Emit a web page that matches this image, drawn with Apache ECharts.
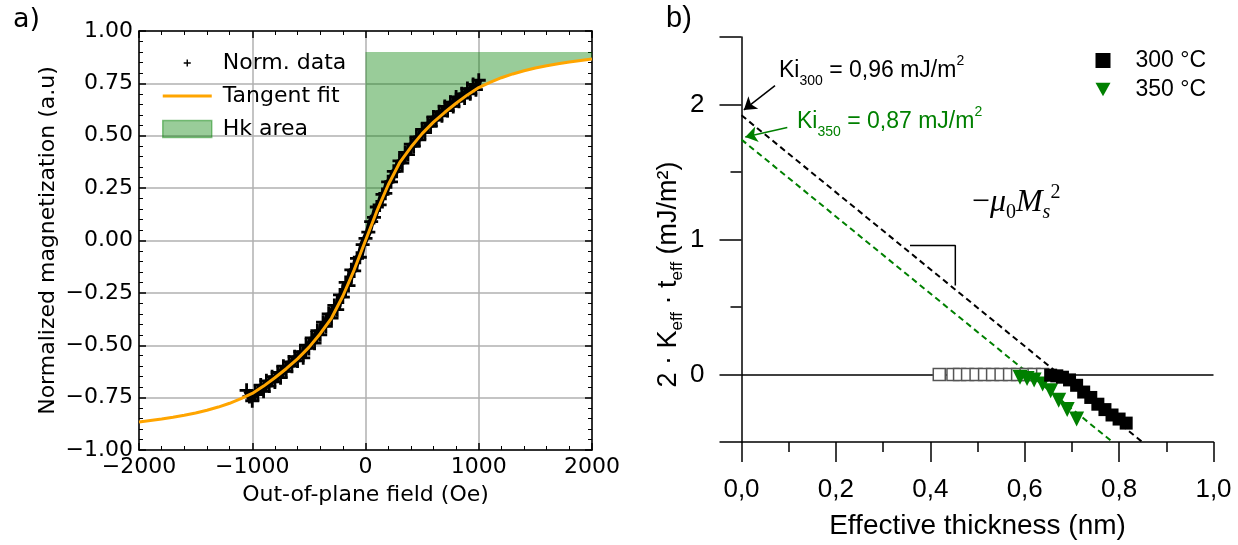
<!DOCTYPE html>
<html><head><meta charset="utf-8">
<script src="https://cdn.jsdelivr.net/npm/echarts@6/dist/echarts.min.js"></script>
<style>html,body{margin:0;padding:0;background:#fff}#c{width:1238px;height:545px}</style>
</head><body><div id="c"></div>
<script>
// ================= Panel a) data =================
const fieldTicks = [-2000, -1000, 0, 1000, 2000];
const magTicks = [-1, -0.75, -0.5, -0.25, 0, 0.25, 0.5, 0.75, 1];
// normalized measured data (Oe, a.u.)
const dataH = [-1050,-1025,-1000,-975,-950,-925,-900,-875,-850,-825,-800,-775,-750,-725,-700,-675,-650,-625,-600,-575,-550,-525,-500,-475,-450,-425,-400,-375,-350,-325,-300,-275,-250,-225,-200,-175,-150,-125,-100,-75,-50,-25,0,25,50,75,100,125,150,175,200,225,250,275,300,325,350,375,400,425,450,475,500,525,550,575,600,625,650,675,700,725,750,775,800,825,850,875,900,925,950,975,1000];
const dataM = [-0.715,-0.745,-0.765,-0.72,-0.735,-0.69,-0.72,-0.67,-0.695,-0.65,-0.675,-0.63,-0.655,-0.6,-0.625,-0.58,-0.6,-0.555,-0.575,-0.53,-0.56,-0.5,-0.515,-0.465,-0.49,-0.43,-0.45,-0.39,-0.41,-0.35,-0.37,-0.31,-0.33,-0.26,-0.27,-0.2,-0.215,-0.14,-0.145,-0.085,-0.08,-0.02,0.01,0.04,0.09,0.11,0.16,0.17,0.22,0.225,0.28,0.28,0.33,0.33,0.38,0.37,0.42,0.41,0.46,0.45,0.495,0.48,0.53,0.515,0.56,0.545,0.59,0.575,0.615,0.595,0.64,0.62,0.66,0.64,0.685,0.665,0.70,0.68,0.725,0.70,0.745,0.72,0.765];
// tangent fit
const tanH = [-2000,-1900,-1800,-1700,-1600,-1500,-1400,-1300,-1200,-1100,-1000,-900,-800,-700,-600,-500,-400,-300,-200,-100,0,100,200,300,400,500,600,700,800,900,1000,1100,1200,1300,1400,1500,1600,1700,1800,1900,2000];
const tanM = [-0.866,-0.859,-0.852,-0.844,-0.834,-0.823,-0.81,-0.795,-0.777,-0.755,-0.73,-0.695,-0.655,-0.612,-0.565,-0.51,-0.445,-0.37,-0.265,-0.14,0,0.14,0.265,0.37,0.445,0.51,0.565,0.612,0.655,0.695,0.73,0.755,0.777,0.795,0.81,0.823,0.834,0.844,0.852,0.859,0.866];
const HK_TOP = 0.9;

// ================= Panel b) data =================
const thickTicks = [0, 0.2, 0.4, 0.6, 0.8, 1.0];
const keffTicks = [0, 1, 2];
const openT = [0.419,0.448,0.462,0.479,0.497,0.515,0.532,0.550,0.568,0.585,0.603,0.620,0.638];
const openK = [0,0,0,0,0,0,0,0,0,0,0,0,0];
const t300 = [0.655,0.668,0.680,0.695,0.710,0.725,0.740,0.755,0.770,0.785,0.800,0.815];
const k300 = [-0.005,-0.01,-0.02,-0.04,-0.08,-0.13,-0.17,-0.22,-0.26,-0.30,-0.33,-0.36];
const t350 = [0.590,0.605,0.620,0.638,0.655,0.672,0.690,0.710];
const k350 = [-0.02,-0.03,-0.04,-0.07,-0.12,-0.19,-0.26,-0.33];
const fit300T = [0, 0.849];
const fit300K = [1.92, -0.5];
const fit350T = [0, 0.786];
const fit350K = [1.74, -0.5];
const slopeT = [0.357, 0.453, 0.453];
const slopeK = [0.955, 0.955, 0.66];
const arrow300 = [[0.071, 2.14], [0.005, 1.96]];
const arrow350 = [[0.097, 1.83], [0.008, 1.76]];
const annotations = [
  {at: [0.0795, 2.25], text: '{m|Ki}{sub|300}{m| = 0,96 mJ/m}{sup|2}', color: '#000'},
  {at: [0.1176, 1.872], text: '{m|Ki}{sub|350}{m| = 0,87 mJ/m}{sup|2}', color: '#008000'},
  {at: [0.488, 1.272], text: '{r|\u2212}{i|\u03bc}{s0|0}{i|M}{ss|s}{sp|2}', color: '#000'}
];

// ================= build =================
const zip = (a, b) => a.map((v, i) => [v, b[i]]);
const hkIdx = tanH.map((h, i) => i).filter(i => tanH[i] >= 0);
const minusFmt = s => s.replace('-', '\u2212');

const FA = 'DejaVu Sans';
const FB = 'Liberation Sans';
const plusPath = 'path://M4,0H6V4H10V6H6V10H4V6H0V4H4Z';
const plusIcon = 'path://M-7,-7M17,17M4,0H6V4H10V6H6V10H4V6H0V4H4Z';
const lineIcon = 'path://M0,0H49V3H0Z';
const downTri = 'path://M0,0L10,0L5,9Z';
const GREEN_FILL = 'rgba(0,128,0,0.4)';

const axA = {
  axisLine: {show: true, onZero: false, lineStyle: {color: '#000', width: 1.5}},
  axisTick: {show: true, inside: true, length: 7, lineStyle: {color: '#000', width: 1.5}},
  minorTick: {show: true, splitNumber: 5, length: 4, lineStyle: {color: '#000', width: 1}},
};

const chart = echarts.init(document.getElementById('c'), null, {renderer: 'canvas'});
chart.setOption({
  backgroundColor: '#fff',
  animation: false,
  title: [
    {text: 'a)', left: 13, top: 6, padding: 0, textStyle: {fontFamily: FA, fontSize: 27, fontWeight: 'normal', color: '#000'}},
    {text: 'b)', left: 666, top: 4, padding: 0, textStyle: {fontFamily: FB, fontSize: 29, fontWeight: 'normal', color: '#000'}}
  ],
  grid: [
    {left: 139, top: 31, width: 453, height: 419, containLabel: false, outerBoundsMode: 'none'},
    {left: 741.5, top: 37, width: 472, height: 405, containLabel: false, outerBoundsMode: 'none'}
  ],
  legend: [
    {
      left: 157, top: 47, orient: 'vertical', itemWidth: 49, itemHeight: 17, itemGap: 11,
      selectedMode: false,
      textStyle: {fontFamily: FA, fontSize: 22, lineHeight: 22, color: '#000', padding: [0, 0, 0, 6]},
      data: [
        {name: 'Norm. data', icon: plusIcon, itemStyle: {color: '#000'}},
        {name: 'Tangent fit', icon: lineIcon, itemStyle: {color: '#FFA500'}},
        {name: 'Hk area', icon: 'rect', itemStyle: {color: GREEN_FILL, borderColor: 'rgba(0,128,0,0.45)', borderWidth: 1.5}}
      ]
    },
    {
      left: 1090.5, top: 44, orient: 'vertical', itemWidth: 15, itemHeight: 15, itemGap: 6,
      selectedMode: false,
      textStyle: {fontFamily: FB, fontSize: 23, lineHeight: 23, color: '#000', padding: [0, 0, 0, 20]},
      data: [
        {name: '300 °C', icon: 'rect'},
        {name: '350 °C', icon: downTri}
      ]
    }
  ],
  xAxis: [
    Object.assign({}, axA, {
      gridIndex: 0, type: 'value', min: -2000, max: 2000, interval: 1000, position: 'bottom',
      splitLine: {show: true, lineStyle: {color: '#b0b0b0', width: 1.5}},
      axisLabel: {show: true, margin: 6, fontFamily: FA, fontSize: 22, color: '#000',
        formatter: v => minusFmt(String(v)), showMinLabel: true, showMaxLabel: true},
      name: 'Out-of-plane field (Oe)', nameLocation: 'middle', nameGap: 33,
      nameTextStyle: {fontFamily: FA, fontSize: 22, color: '#000', lineHeight: 24}
    }),
    Object.assign({}, axA, {
      gridIndex: 0, type: 'value', min: -2000, max: 2000, interval: 1000, position: 'top',
      splitLine: {show: false}, axisLabel: {show: false}
    }),
    {
      gridIndex: 1, type: 'value', min: 0, max: 1, interval: 0.2, position: 'bottom',
      axisLine: {show: true, onZero: false, lineStyle: {color: '#000', width: 1.5}},
      axisTick: {show: true, inside: false, length: 20, lineStyle: {color: '#000', width: 1.5}},
      minorTick: {show: true, splitNumber: 2, length: 10, lineStyle: {color: '#000', width: 1.5}},
      splitLine: {show: false},
      axisLabel: {show: true, margin: 35, fontFamily: FB, fontSize: 26, color: '#000',
        formatter: v => v.toFixed(1).replace('.', ','), showMinLabel: true, showMaxLabel: true},
      name: 'Effective thickness (nm)', nameLocation: 'middle', nameGap: 68,
      nameTextStyle: {fontFamily: FB, fontSize: 28, color: '#000', lineHeight: 32}
    }
  ],
  yAxis: [
    Object.assign({}, axA, {
      gridIndex: 0, type: 'value', min: -1, max: 1, interval: 0.25, position: 'left',
      splitLine: {show: true, lineStyle: {color: '#b0b0b0', width: 1.5}},
      axisLabel: {show: true, margin: 6, fontFamily: FA, fontSize: 22, color: '#000',
        formatter: v => minusFmt(v.toFixed(2)), showMinLabel: true, showMaxLabel: true},
      name: 'Normalized magnetization (a.u)', nameLocation: 'middle', nameGap: 79,
      nameTextStyle: {fontFamily: FA, fontSize: 22, color: '#000', lineHeight: 24}
    }),
    Object.assign({}, axA, {
      gridIndex: 0, type: 'value', min: -1, max: 1, interval: 0.25, position: 'right',
      splitLine: {show: false}, axisLabel: {show: false}
    }),
    {
      gridIndex: 1, type: 'value', min: -0.5, max: 2.5, interval: 0.5, position: 'left',
      axisLine: {show: true, onZero: false, lineStyle: {color: '#000', width: 1.5}},
      axisTick: {show: true, inside: false, length: 22, customValues: [-0.5, 0, 1, 2, 2.5], lineStyle: {color: '#000', width: 1.5}},
      splitLine: {show: false},
      axisLabel: {show: true, margin: 37, customValues: keffTicks, fontFamily: FB, fontSize: 26, color: '#000',
        formatter: v => String(v)},
      name: '{m|2 · K}{s|eff}{m| · t}{s|eff}{m| (mJ/m²)}', nameLocation: 'middle', nameGap: 50,
      nameTextStyle: {
        padding: [0, 70, 0, 0],
        rich: {
          m: {fontFamily: FB, fontSize: 27, lineHeight: 36, color: '#000'},
          s: {fontFamily: FB, fontSize: 17, lineHeight: 17, verticalAlign: 'bottom', color: '#000'}
        }
      }
    },
    {
      gridIndex: 1, type: 'value', min: -0.5, max: 2.5, interval: 0.5, position: 'left',
      axisLine: {show: false, onZero: false},
      axisTick: {show: true, inside: false, length: 11, customValues: [0.5, 1.5], lineStyle: {color: '#000', width: 1.5}},
      splitLine: {show: false}, axisLabel: {show: false}
    }
  ],
  series: [
    // ---------- panel a ----------
    {
      name: 'Hk area', type: 'custom', coordinateSystem: 'cartesian2d', xAxisIndex: 0, yAxisIndex: 0,
      data: [[0, HK_TOP]], silent: true, z: 1, itemStyle: {color: GREEN_FILL},
      renderItem: function (params, api) {
        const upper = hkIdx.map(i => api.coord([tanH[i], HK_TOP]));
        const lower = hkIdx.slice().reverse().map(i => api.coord([tanH[i], tanM[i]]));
        return {type: 'polygon', shape: {points: upper.concat(lower)}, style: {fill: GREEN_FILL, stroke: null}};
      }
    },
    {
      name: 'Norm. data', type: 'line', xAxisIndex: 0, yAxisIndex: 0,
      data: zip(dataH, dataM), symbol: plusPath, symbolSize: 14, showSymbol: true, showAllSymbol: true,
      lineStyle: {color: '#000', width: 7}, itemStyle: {color: '#000', opacity: 1}, z: 2
    },
    {
      name: 'Tangent fit', type: 'line', xAxisIndex: 0, yAxisIndex: 0,
      data: zip(tanH, tanM), symbol: 'none', smooth: false,
      lineStyle: {color: '#FFA500', width: 3}, itemStyle: {color: '#FFA500'}, z: 3
    },
    // ---------- panel b ----------
    {
      name: 'open', type: 'scatter', xAxisIndex: 2, yAxisIndex: 2,
      data: zip(openT, openK), symbol: 'rect', symbolSize: 12,
      itemStyle: {color: '#fff', borderColor: '#555', borderWidth: 1.5, opacity: 1}, z: 3,
      markLine: {
        silent: true, symbol: ['none', 'none'], label: {show: false},
        lineStyle: {color: '#000', width: 1.5, type: 'solid'},
        data: [{yAxis: 0}], z: 2
      }
    },
    {
      name: 'fit300', type: 'line', xAxisIndex: 2, yAxisIndex: 2, data: zip(fit300T, fit300K),
      symbol: 'none', lineStyle: {color: '#000', width: 2, type: [6, 4]}, silent: true, z: 2
    },
    {
      name: 'fit350', type: 'line', xAxisIndex: 2, yAxisIndex: 2, data: zip(fit350T, fit350K),
      symbol: 'none', lineStyle: {color: '#008000', width: 2, type: [6, 4]}, silent: true, z: 2
    },
    {
      name: 'slope', type: 'line', xAxisIndex: 2, yAxisIndex: 2, data: zip(slopeT, slopeK),
      symbol: 'none', lineStyle: {color: '#000', width: 1.5}, silent: true, z: 2,
      markLine: {
        silent: true, symbol: ['none', 'arrow'], symbolSize: 12, label: {show: false},
        data: [
          [{coord: arrow300[0], lineStyle: {color: '#000', width: 1.5, type: 'solid'}, itemStyle: {color: '#000'}}, {coord: arrow300[1]}],
          [{coord: arrow350[0], lineStyle: {color: '#008000', width: 1.5, type: 'solid'}, itemStyle: {color: '#008000'}}, {coord: arrow350[1]}]
        ]
      }
    },
    {
      name: '350 °C', type: 'scatter', xAxisIndex: 2, yAxisIndex: 2,
      data: zip(t350, k350), symbol: 'triangle', symbolRotate: 180, symbolSize: 15,
      itemStyle: {color: '#008000', opacity: 1}, z: 4
    },
    {
      name: '300 °C', type: 'scatter', xAxisIndex: 2, yAxisIndex: 2,
      data: zip(t300, k300), symbol: 'rect', symbolSize: 13,
      itemStyle: {color: '#000', opacity: 1}, z: 5
    },
    {
      name: 'annot', type: 'scatter', xAxisIndex: 2, yAxisIndex: 2, symbolSize: 0, silent: true, z: 6,
      itemStyle: {opacity: 1},
      data: annotations.map(a => ({
        value: a.at,
        itemStyle: {opacity: 1},
        label: {
          show: true, position: 'right', distance: 0, formatter: a.text, opacity: 1,
          rich: {
            m: {fontFamily: FB, fontSize: 23, lineHeight: 34, color: a.color},
            sub: {fontFamily: FB, fontSize: 14, lineHeight: 14, verticalAlign: 'bottom', color: a.color},
            sup: {fontFamily: FB, fontSize: 14, lineHeight: 14, verticalAlign: 'top', color: a.color},
            r: {fontFamily: 'Liberation Serif', fontSize: 32, lineHeight: 40, color: a.color},
            i: {fontFamily: 'Liberation Serif', fontStyle: 'italic', fontSize: 32, lineHeight: 40, color: a.color},
            s0: {fontFamily: 'Liberation Serif', fontSize: 20, lineHeight: 12, verticalAlign: 'bottom', color: a.color},
            ss: {fontFamily: 'Liberation Serif', fontStyle: 'italic', fontSize: 20, lineHeight: 12, verticalAlign: 'bottom', color: a.color},
            sp: {fontFamily: 'Liberation Serif', fontSize: 20, lineHeight: 24, verticalAlign: 'top', color: a.color}
          }
        }
      }))
    }
  ]
});
</script></body></html>
